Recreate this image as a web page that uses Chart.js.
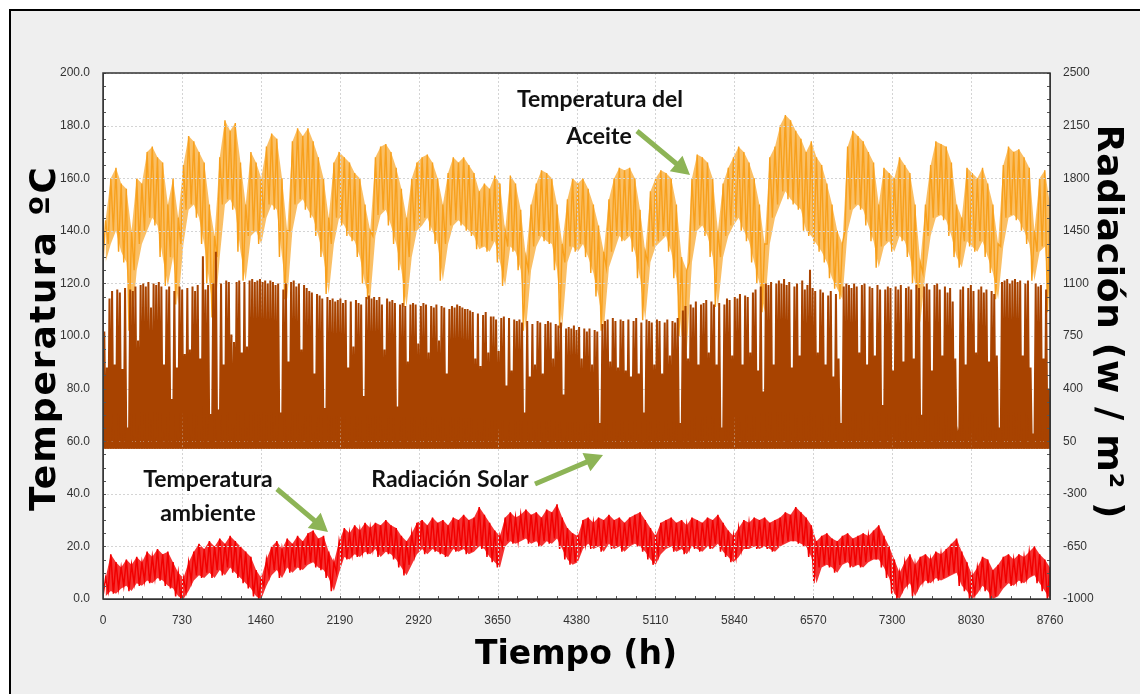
<!DOCTYPE html>
<html>
<head>
<meta charset="utf-8">
<script src="https://cdn.jsdelivr.net/npm/chart.js@4.4.1/dist/chart.umd.min.js"></script>
<style>
  html, body { margin: 0; padding: 0; background: #fff; overflow: hidden; }
  #marco { position: absolute; left: 9px; top: 9px; width: 1200px; height: 800px; border: 2px solid #000; background: #efefef; }
  #grafico { position: absolute; left: 0; top: 0; }
  #flechas { position: absolute; left: 0; top: 0; }
  .t { position: absolute; white-space: nowrap; line-height: 1; transform: translate(-50%, -50%); }
  .eje { font-family: "DejaVu Sans", sans-serif; font-weight: bold; color: #000; }
  .nota { font-family: Lato, sans-serif; font-weight: bold; font-size: 23px; color: #111; }
</style>
</head>
<body>
<div id="marco"></div>
<canvas id="grafico" width="1140" height="694"></canvas>
<svg id="flechas" width="1140" height="694"></svg>

<div class="t eje" style="left:43px; top:338px; font-size:36px; letter-spacing:2px; transform:translate(-50%,-50%) rotate(-90deg);">Temperatura ºC</div>
<div class="t eje" style="left:1110px; top:322px; font-size:36px; letter-spacing:0.7px; transform:translate(-50%,-50%) rotate(90deg);">Radiación (w / m² )</div>
<div class="t eje" style="left:576px; top:652px; font-size:33px;">Tiempo (h)</div>

<div class="t nota" style="left:600px; top:98px;">Temperatura del</div>
<div class="t nota" style="left:599px; top:135px;">Aceite</div>
<div class="t nota" style="left:450px; top:478px;">Radiación Solar</div>
<div class="t nota" style="left:208px; top:478px;">Temperatura</div>
<div class="t nota" style="left:208px; top:512px;">ambiente</div>

<script>
// eje x: horas del año
const ticksHoras = [0, 730, 1460, 2190, 2920, 3650, 4380, 5110, 5840, 6570, 7300, 8030, 8760];
const ticksTemp = [0, 20, 40, 60, 80, 100, 120, 140, 160, 180, 200];
const ticksRad = [-1000, -650, -300, 50, 400, 750, 1100, 1450, 1800, 2150, 2500];

// radiacion solar: pico diario (W/m2), un valor por dia
const radiacionPico = [
  780, 540, 1000, 1050, 560, 1060, 1040, 530, 1070, 140,
  1060, 1050, 1080, 720, 1090, 1100, 1080, 1110, 940, 1100,
  1090, 1110, 1080, 560, 1060, 1080, 330, 1050, 540, 1080,
  1060, 630, 1070, 660, 1080, 1050, 1090, 600, 1280, 1060,
  1090, 230, 1100, 1310, 260, 1100, 560, 1120, 1110, 760,
  710, 1110, 1120, 640, 1110, 680, 1120, 1130, 1110, 1120,
  1130, 1110, 1120, 1100, 1120, 1110, 1090, 1100, 240, 1060,
  1100, 580, 1110, 1120, 1080, 1100, 660, 1090, 1070, 1050,
  1040, 500, 1030, 1020, 1000, 270, 1010, 990, 1000, 980,
  990, 1000, 970, 990, 540, 980, 680, 990, 970, 960,
  350, 1010, 1020, 1000, 1010, 990, 1010, 960, 660, 1000,
  980, 990, 970, 280, 960, 970, 950, 580, 960, 970,
  960, 700, 950, 970, 960, 640, 950, 940, 960, 720,
  950, 940, 500, 930, 950, 940, 960, 950, 940, 930,
  930, 920, 910, 600, 900, 550, 890, 910, 640, 880,
  880, 860, 650, 870, 880, 420, 870, 520, 860, 850,
  860, 840, 240, 850, 480, 830, 560, 850, 840, 500,
  830, 850, 840, 600, 830, 820, 840, 360, 800, 810,
  800, 820, 790, 810, 600, 800, 780, 800, 560, 790,
  780, 170, 830, 850, 860, 580, 870, 850, 540, 860,
  850, 520, 860, 480, 850, 870, 500, 840, 240, 860,
  850, 840, 560, 860, 850, 500, 840, 860, 620, 850,
  840, 870, 170, 920, 950, 600, 960, 940, 980, 560,
  960, 970, 990, 640, 980, 960, 560, 970, 140, 960,
  1000, 990, 620, 1010, 1000, 1030, 560, 1020, 1010, 640,
  1040, 1060, 520, 1080, 380, 1100, 1090, 1110, 560, 1100,
  1120, 1100, 1130, 1090, 1110, 540, 1080, 1100, 620, 1120,
  1060, 1090, 1190, 1070, 1050, 640, 1060, 1040, 560, 1020,
  1050, 480, 1030, 600, 170, 1080, 1100, 1090, 1070, 1100,
  1080, 640, 1090, 1100, 560, 1080, 1070, 620, 1090, 1060,
  290, 1060, 1080, 1070, 520, 1080, 1060, 1090, 580, 1070,
  1080, 1060, 600, 1090, 1070, 225, 1080, 1100, 1060, 520,
  1090, 1100, 1060, 620, 1080, 1040, 1070, 980, 600, 85,
  1060, 1080, 560, 1070, 1090, 1050, 640, 1060, 1080, 1040,
  1060, 580, 1050, 1030, 620, 140, 1110, 1120, 1130, 1100,
  1120, 1130, 1110, 1120, 620, 1100, 1120, 540, 100, 1100,
  1080, 1090, 600, 1060, 400
];

// temperatura del aceite (ºC): maximo y minimo cada 48 h
const aceiteMax = [
  144, 160, 164, 158, 156, 140, 160, 158, 170, 172,
  168, 166, 150, 160, 145, 165, 176, 174, 170, 166,
  150, 138, 168, 182, 178, 181, 166, 150, 170, 166,
  160, 172, 177, 175, 160, 140, 174, 179, 176, 179,
  174, 168, 160, 145, 166, 170, 168, 166, 162, 160,
  150, 140, 168, 172, 173, 170, 164, 156, 145, 160,
  166, 168, 169, 166, 160, 150, 162, 168, 166, 168,
  165, 162, 155, 158, 156, 161, 158, 140, 161, 158,
  148, 130, 150, 158, 163, 162, 160, 150, 135, 152,
  160, 158, 160, 156, 150, 142, 132, 152, 160, 164,
  163, 164, 160, 148, 132, 155, 160, 163, 162, 160,
  150, 130, 125, 160, 169, 168, 166, 160, 140, 158,
  164, 168, 172, 170, 166, 160, 150, 135, 168, 172,
  180, 184, 182, 178, 175, 170, 174, 168, 165, 158,
  150, 140, 135, 172, 178, 176, 174, 170, 166, 150,
  164, 162, 160, 168, 165, 162, 150, 128, 150, 165,
  174, 173, 172, 166, 150, 145, 164, 162, 160, 164,
  158, 150, 135, 165, 172, 170, 171, 168, 164, 140,
  160, 163, 150
];
const aceiteMin = [
  128, 135, 140, 132, 128, 102, 125, 135, 140, 145,
  142, 130, 119, 130, 112, 135, 148, 150, 145, 135,
  120, 107, 130, 150, 152, 148, 132, 121, 138, 140,
  135, 145, 150, 148, 130, 114, 140, 150, 152, 148,
  145, 138, 130, 116, 135, 145, 142, 138, 136, 130,
  120, 114, 138, 146, 148, 142, 135, 125, 111, 130,
  140, 142, 145, 140, 135, 121, 135, 142, 144, 142,
  140, 138, 133, 134, 132, 136, 128, 119, 134, 132,
  125, 102, 125, 134, 138, 136, 135, 125, 103, 128,
  134, 132, 135, 130, 124, 115, 102, 126, 132, 138,
  136, 138, 132, 122, 106, 128, 134, 136, 138, 132,
  122, 100, 94, 128, 140, 142, 138, 130, 111, 130,
  138, 142, 145, 140, 136, 128, 120, 109, 135, 145,
  150, 155, 152, 150, 148, 140, 138, 135, 132, 128,
  122, 118, 114, 140, 148, 150, 148, 142, 136, 126,
  134, 136, 132, 138, 136, 130, 120, 105, 124, 138,
  145, 146, 144, 138, 130, 126, 136, 134, 132, 136,
  130, 124, 114, 134, 145, 146, 144, 140, 135, 121,
  132, 134, 109
];

// temperatura ambiente (ºC): maximo y minimo cada 48 h
const ambienteMax = [
  8, 17, 14, 12, 15, 13, 16, 14, 18, 16,
  19, 17, 18, 14, 10, 8, 14, 18, 21, 19,
  22, 20, 23, 21, 24, 22, 20, 18, 16, 11,
  8, 15, 20, 22, 19, 23, 21, 24, 22, 25,
  26, 23, 24, 18, 14, 22, 27, 25, 28, 26,
  29, 27, 29, 28, 30, 28, 27, 24, 22, 25,
  29, 30, 28, 31, 29, 30, 28, 31, 30, 32,
  30, 31, 35, 32, 29, 26, 24, 31, 33, 31,
  32, 34, 32, 33, 31, 34, 33, 36, 31, 27,
  25, 24, 30, 31, 29, 31, 30, 32, 30, 31,
  29, 31, 32, 33, 30, 27, 24, 29, 30, 31,
  29, 30, 28, 31, 30, 29, 31, 30, 32, 29,
  26, 24, 27, 30, 29, 31, 30, 31, 29, 30,
  31, 33, 32, 35, 33, 31, 28, 22, 24, 25,
  23, 22, 24, 25, 23, 24, 25, 24, 26, 28,
  24, 20, 15, 10, 14, 17, 13, 16, 17, 15,
  18, 17, 19, 21, 23, 18, 14, 9, 12, 16,
  15, 11, 13, 16, 17, 15, 17, 16, 18, 20,
  17, 15, 12
];
const ambienteMin = [
  1, 3, 2, 4, 5, 3, 6, 5, 7, 6,
  8, 7, 5, 4, 1, 0, 3, 7, 9, 8,
  10, 8, 11, 9, 12, 10, 8, 6, 4, 1,
  0, 5, 9, 11, 8, 12, 10, 12, 11, 13,
  14, 12, 11, 8, 3, 10, 16, 15, 17, 16,
  18, 17, 19, 16, 18, 17, 15, 12, 9, 13,
  17, 19, 17, 19, 18, 17, 16, 19, 18, 19,
  17, 18, 20, 19, 16, 14, 12, 20, 22, 21,
  22, 23, 21, 22, 20, 22, 21, 23, 19, 15,
  13, 14, 19, 21, 19, 20, 18, 21, 19, 20,
  18, 20, 21, 20, 18, 15, 13, 17, 19, 20,
  18, 19, 17, 20, 19, 18, 20, 19, 21, 18,
  16, 14, 16, 19, 19, 20, 19, 20, 19, 18,
  20, 21, 22, 22, 21, 20, 16, 6, 12, 13,
  12, 10, 13, 14, 12, 13, 12, 14, 15, 15,
  12, 8, 2, 0, 4, 6, 1, 5, 7, 6,
  8, 7, 8, 9, 10, 5, 3, 0, 2, 5,
  3, 0, 1, 4, 6, 5, 7, 6, 8, 9,
  6, 3, 0
];

const HORAS_BLOQUE = 48;

// un punto por bloque, en el centro del bloque
function serieBloques(valores) {
  return valores.map((v, i) => ({ x: i * HORAS_BLOQUE + HORAS_BLOQUE / 2, y: v }));
}

// minimo y maximo alternados dentro de cada bloque (trazo vertical)
function serieZigzag(minimos, maximos) {
  const puntos = [];
  minimos.forEach((m, i) => {
    puntos.push({ x: i * HORAS_BLOQUE, y: m });
    puntos.push({ x: i * HORAS_BLOQUE + HORAS_BLOQUE / 2, y: maximos[i] });
  });
  return puntos;
}

// radiacion nula de noche, pico a mediodia
const radiacion = [];
radiacionPico.forEach((pico, dia) => {
  radiacion.push({ x: dia * 24, y: 0 });
  radiacion.push({ x: dia * 24 + 12, y: pico });
});
radiacion.push({ x: 8760, y: 0 });

const fuenteTicks = { family: 'Liberation Sans', size: 12 };
const naranja = '#f8a01c';
const rojo = '#f20000';

// rejilla punteada: encima de las temperaturas, debajo de la radiacion
const rejillaPlugin = {
  id: 'rejilla',
  beforeDatasetDraw(chart, args) {
    if (args.index !== 0) return;
    const { ctx, chartArea: a, scales } = chart;
    ctx.save();
    ctx.strokeStyle = '#d4d4d4';
    ctx.lineWidth = 1;
    ctx.setLineDash([2, 2]);
    ctx.beginPath();
    ticksHoras.forEach(h => {
      const x = Math.round(scales.x.getPixelForValue(h)) + 0.5;
      ctx.moveTo(x, a.top); ctx.lineTo(x, a.bottom);
    });
    ticksTemp.forEach(t => {
      const y = Math.round(scales.y.getPixelForValue(t)) + 0.5;
      ctx.moveTo(a.left, y); ctx.lineTo(a.right, y);
    });
    ctx.stroke();
    ctx.restore();
  }
};

const marcoPlugin = {
  id: 'marco',
  beforeDraw(chart) {
    const { ctx, chartArea: a } = chart;
    ctx.save();
    ctx.fillStyle = '#fff';
    ctx.fillRect(a.left, a.top, a.right - a.left, a.bottom - a.top);
    ctx.restore();
  },
  afterDraw(chart) {
    const { ctx, chartArea: a, scales } = chart;
    ctx.save();
    ctx.strokeStyle = '#555';
    ctx.lineWidth = 1;
    ctx.beginPath();
    for (let v = 0; v <= 200; v += 5) {
      const y = Math.round(scales.y.getPixelForValue(v)) + 0.5;
      ctx.moveTo(a.left, y); ctx.lineTo(a.left + 3, y);
    }
    for (let v = -1000; v <= 2500; v += 87.5) {
      const y = Math.round(scales.y2.getPixelForValue(v)) + 0.5;
      ctx.moveTo(a.right - 3, y); ctx.lineTo(a.right, y);
    }
    for (let h = 0; h <= 8760; h += 182.5) {
      const x = Math.round(scales.x.getPixelForValue(h)) + 0.5;
      ctx.moveTo(x, a.bottom - 3); ctx.lineTo(x, a.bottom);
    }
    ctx.stroke();
    ctx.strokeStyle = '#333';
    ctx.lineWidth = 1.5;
    ctx.strokeRect(a.left, a.top, a.right - a.left, a.bottom - a.top);
    ctx.restore();
  }
};

const ctx = document.getElementById('grafico').getContext('2d');
const grafico = new Chart(ctx, {
  type: 'line',
  data: {
    datasets: [{
      label: 'Radiación Solar',
      data: radiacion,
      yAxisID: 'y2',
      borderColor: '#a84300',
      backgroundColor: '#a84300',
      borderWidth: 2,
      fill: 'origin',
      pointRadius: 0,
      order: 0
    }, {
      label: 'Temperatura ambiente',
      data: serieZigzag(ambienteMin, ambienteMax),
      yAxisID: 'y',
      borderColor: rojo,
      borderWidth: 1.5,
      fill: false,
      pointRadius: 0,
      order: 1
    }, {
      label: 'Temperatura ambiente (máx.)',
      data: serieBloques(ambienteMax),
      yAxisID: 'y',
      borderWidth: 0,
      backgroundColor: 'rgba(242,0,0,0.8)',
      fill: { target: 3 },
      pointRadius: 0,
      order: 1
    }, {
      label: 'Temperatura ambiente (mín.)',
      data: serieBloques(ambienteMin),
      yAxisID: 'y',
      borderWidth: 0,
      fill: false,
      pointRadius: 0,
      order: 1
    }, {
      label: 'Temperatura del Aceite',
      data: serieZigzag(aceiteMin, aceiteMax),
      yAxisID: 'y',
      borderColor: naranja,
      borderWidth: 1.4,
      fill: false,
      pointRadius: 0,
      order: 2
    }, {
      label: 'Temperatura del Aceite (máx.)',
      data: serieBloques(aceiteMax),
      yAxisID: 'y',
      borderWidth: 0,
      backgroundColor: 'rgba(248,160,28,0.68)',
      fill: { target: 6 },
      pointRadius: 0,
      order: 2
    }, {
      label: 'Temperatura del Aceite (mín.)',
      data: serieBloques(aceiteMin),
      yAxisID: 'y',
      borderWidth: 0,
      fill: false,
      pointRadius: 0,
      order: 2
    }]
  },
  options: {
    responsive: false,
    animation: false,
    events: [],
    layout: { padding: { top: 73, left: 0, right: 0, bottom: 0 } },
    elements: { line: { tension: 0 } },
    scales: {
      x: {
        type: 'linear',
        min: ticksHoras[0],
        max: ticksHoras[ticksHoras.length - 1],
        afterBuildTicks: (s) => { s.ticks = ticksHoras.map(v => ({ value: v })); },
        afterFit: (s) => { s.height = 95; },
        ticks: {
          autoSkip: false, maxRotation: 0, padding: 6, color: '#333', font: fuenteTicks,
          callback: (v) => String(v)
        },
        grid: { display: false },
        border: { color: '#333', width: 1, z: 2 }
      },
      y: {
        position: 'left',
        min: ticksTemp[0],
        max: ticksTemp[ticksTemp.length - 1],
        afterBuildTicks: (s) => { s.ticks = ticksTemp.map(v => ({ value: v })); },
        afterFit: (s) => { s.width = 103; },
        ticks: { padding: 5, color: '#333', font: fuenteTicks, callback: (v) => v.toFixed(1) },
        grid: { display: false },
        border: { color: '#444', width: 1, z: 2 }
      },
      y2: {
        position: 'right',
        min: ticksRad[0],
        max: ticksRad[ticksRad.length - 1],
        afterBuildTicks: (s) => { s.ticks = ticksRad.map(v => ({ value: v })); },
        afterFit: (s) => { s.width = 90; },
        ticks: { padding: 5, color: '#333', font: fuenteTicks, callback: (v) => String(v) },
        grid: { display: false },
        border: { color: '#444', width: 1, z: 2 }
      }
    },
    plugins: {
      legend: { display: false },
      tooltip: { enabled: false }
    }
  },
  plugins: [rejillaPlugin, marcoPlugin]
});

// flechas verdes de las notas
const flechas = [
  [637, 131, 690, 175],
  [535, 484, 603, 455],
  [277, 489, 328, 532]
];
const svg = document.getElementById('flechas');
flechas.forEach(([x1, y1, x2, y2]) => {
  const largo = Math.hypot(x2 - x1, y2 - y1);
  const ux = (x2 - x1) / largo, uy = (y2 - y1) / largo;
  const nx = -uy, ny = ux;
  const bx = x2 - ux * 18, by = y2 - uy * 18;
  const cuerpo = 2.5, cabeza = 10;
  const p = [
    [x1 + nx * cuerpo, y1 + ny * cuerpo],
    [bx + nx * cuerpo, by + ny * cuerpo],
    [bx + nx * cabeza, by + ny * cabeza],
    [x2, y2],
    [bx - nx * cabeza, by - ny * cabeza],
    [bx - nx * cuerpo, by - ny * cuerpo],
    [x1 - nx * cuerpo, y1 - ny * cuerpo]
  ];
  const poly = document.createElementNS('http://www.w3.org/2000/svg', 'polygon');
  poly.setAttribute('points', p.map(q => q[0].toFixed(1) + ',' + q[1].toFixed(1)).join(' '));
  poly.setAttribute('fill', '#8db456');
  svg.appendChild(poly);
});
</script>
</body>
</html>
